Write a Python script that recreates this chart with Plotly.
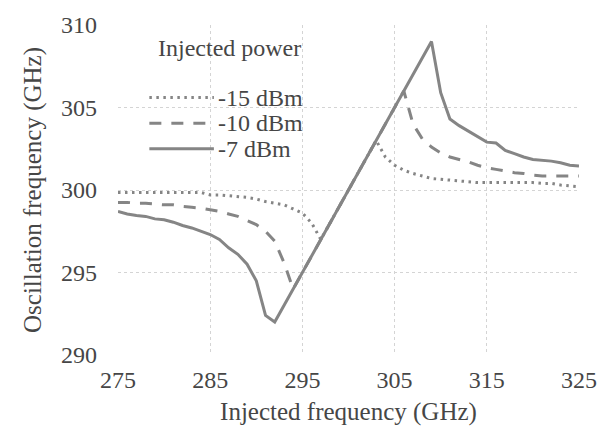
import plotly.graph_objects as go

x_m15 = list(range(275, 326))
y_m15 = [299.85, 299.85, 299.85, 299.85, 299.85, 299.85, 299.85, 299.85, 299.85, 299.85,
         299.7, 299.7, 299.65, 299.6, 299.55, 299.45, 299.3, 299.2, 299.1, 298.85,
         298.6, 298.0, 297.0, 298.0, 299.0, 300.0, 301.0, 302.0, 303.0, 302.0,
         301.5, 301.2, 301.0, 300.85, 300.7, 300.65, 300.6, 300.55, 300.5, 300.45,
         300.45, 300.45, 300.45, 300.45, 300.45, 300.45, 300.4, 300.4, 300.3, 300.25, 300.2]

x_m10 = list(range(275, 326))
y_m10 = [299.25, 299.25, 299.2, 299.2, 299.15, 299.1, 299.1, 299.0, 298.95, 298.9,
         298.8, 298.7, 298.55, 298.4, 298.15, 297.9, 297.5, 296.9, 295.6, 294.0,
         295.0, 296.0, 297.0, 298.0, 299.0, 300.0, 301.0, 302.0, 303.0, 304.0,
         305.0, 306.0, 304.0, 303.1, 302.6, 302.25, 302.0, 301.85, 301.7, 301.5,
         301.35, 301.25, 301.15, 301.05, 301.0, 300.9, 300.85, 300.85, 300.85, 300.85, 300.85]

x_m7 = list(range(275, 326))
y_m7 = [298.7, 298.55, 298.45, 298.4, 298.25, 298.2, 298.05, 297.85, 297.7, 297.5,
        297.3, 297.0, 296.5, 296.1, 295.5, 294.5, 292.4, 292.0, 293.0, 294.0,
        295.0, 296.0, 297.0, 298.0, 299.0, 300.0, 301.0, 302.0, 303.0, 304.0,
        305.0, 306.0, 307.0, 308.0, 309.0, 305.9, 304.3, 303.9, 303.55, 303.2,
        302.9, 302.85, 302.4, 302.2, 302.0, 301.85, 301.8, 301.75, 301.65, 301.5, 301.45]

series_names = ["-15 dBm", "-10 dBm", "-7 dBm"]
series_x = [x_m15, x_m10, x_m7]
series_y = [y_m15, y_m10, y_m7]
series_dash = ["2.5px,4.5px", "12px,10px", "solid"]

legend_title = "Injected power"

x_ticks = [275, 285, 295, 305, 315, 325]
y_ticks = [290, 295, 300, 305, 310]

line_color = "#858585"
text_color = "#464646"
font_family = "Liberation Serif"

fig = go.Figure()
for name, xs, ys, dash in zip(series_names, series_x, series_y, series_dash):
    fig.add_trace(go.Scatter(
        x=xs, y=ys, mode="lines", name=name, showlegend=False,
        line=dict(color=line_color, width=3, dash=dash),
    ))

# hand-drawn legend (paper coordinates)
leg_x0, leg_x1, leg_text_x = 0.068, 0.208, 0.213
leg_rows = [0.780, 0.702, 0.625]
for name, dash, yy in zip(series_names, series_dash, leg_rows):
    fig.add_shape(type="line", xref="paper", yref="paper",
                  x0=leg_x0, x1=leg_x1, y0=yy, y1=yy,
                  line=dict(color=line_color, width=3, dash=dash))
    fig.add_annotation(xref="paper", yref="paper", x=leg_text_x, y=yy,
                       text=name, showarrow=False, xanchor="left", yanchor="middle",
                       font=dict(size=24, color=text_color, family=font_family))
fig.add_annotation(xref="paper", yref="paper", x=0.241, y=0.929,
                   text=legend_title, showarrow=False, xanchor="center", yanchor="middle",
                   font=dict(size=24, color=text_color, family=font_family))

axis_common = dict(
    showline=False, zeroline=False, showgrid=True,
    gridcolor="#d4d4d4", griddash="dot", gridwidth=1,
    ticks="", tickfont=dict(size=24, color=text_color, family=font_family),
)

fig.update_layout(
    width=609, height=435,
    margin=dict(l=118, r=26, t=19, b=80),
    paper_bgcolor="white", plot_bgcolor="white",
    font=dict(family=font_family, color=text_color, size=22),
    showlegend=False,
    xaxis=dict(
        range=[275, 325], tickvals=x_ticks, ticktext=[str(v) for v in x_ticks],
        title=dict(text="Injected frequency (GHz)", standoff=10,
                   font=dict(size=25, color=text_color, family=font_family)),
        ticklabelstandoff=8,
        **axis_common,
    ),
    yaxis=dict(
        range=[290, 310], tickvals=y_ticks, ticktext=[str(v) for v in y_ticks],
        title=dict(text="Oscillation frequency (GHz)", standoff=12,
                   font=dict(size=25, color=text_color, family=font_family)),
        ticklabelstandoff=20,
        **axis_common,
    ),
)

fig.write_html("out.html")
